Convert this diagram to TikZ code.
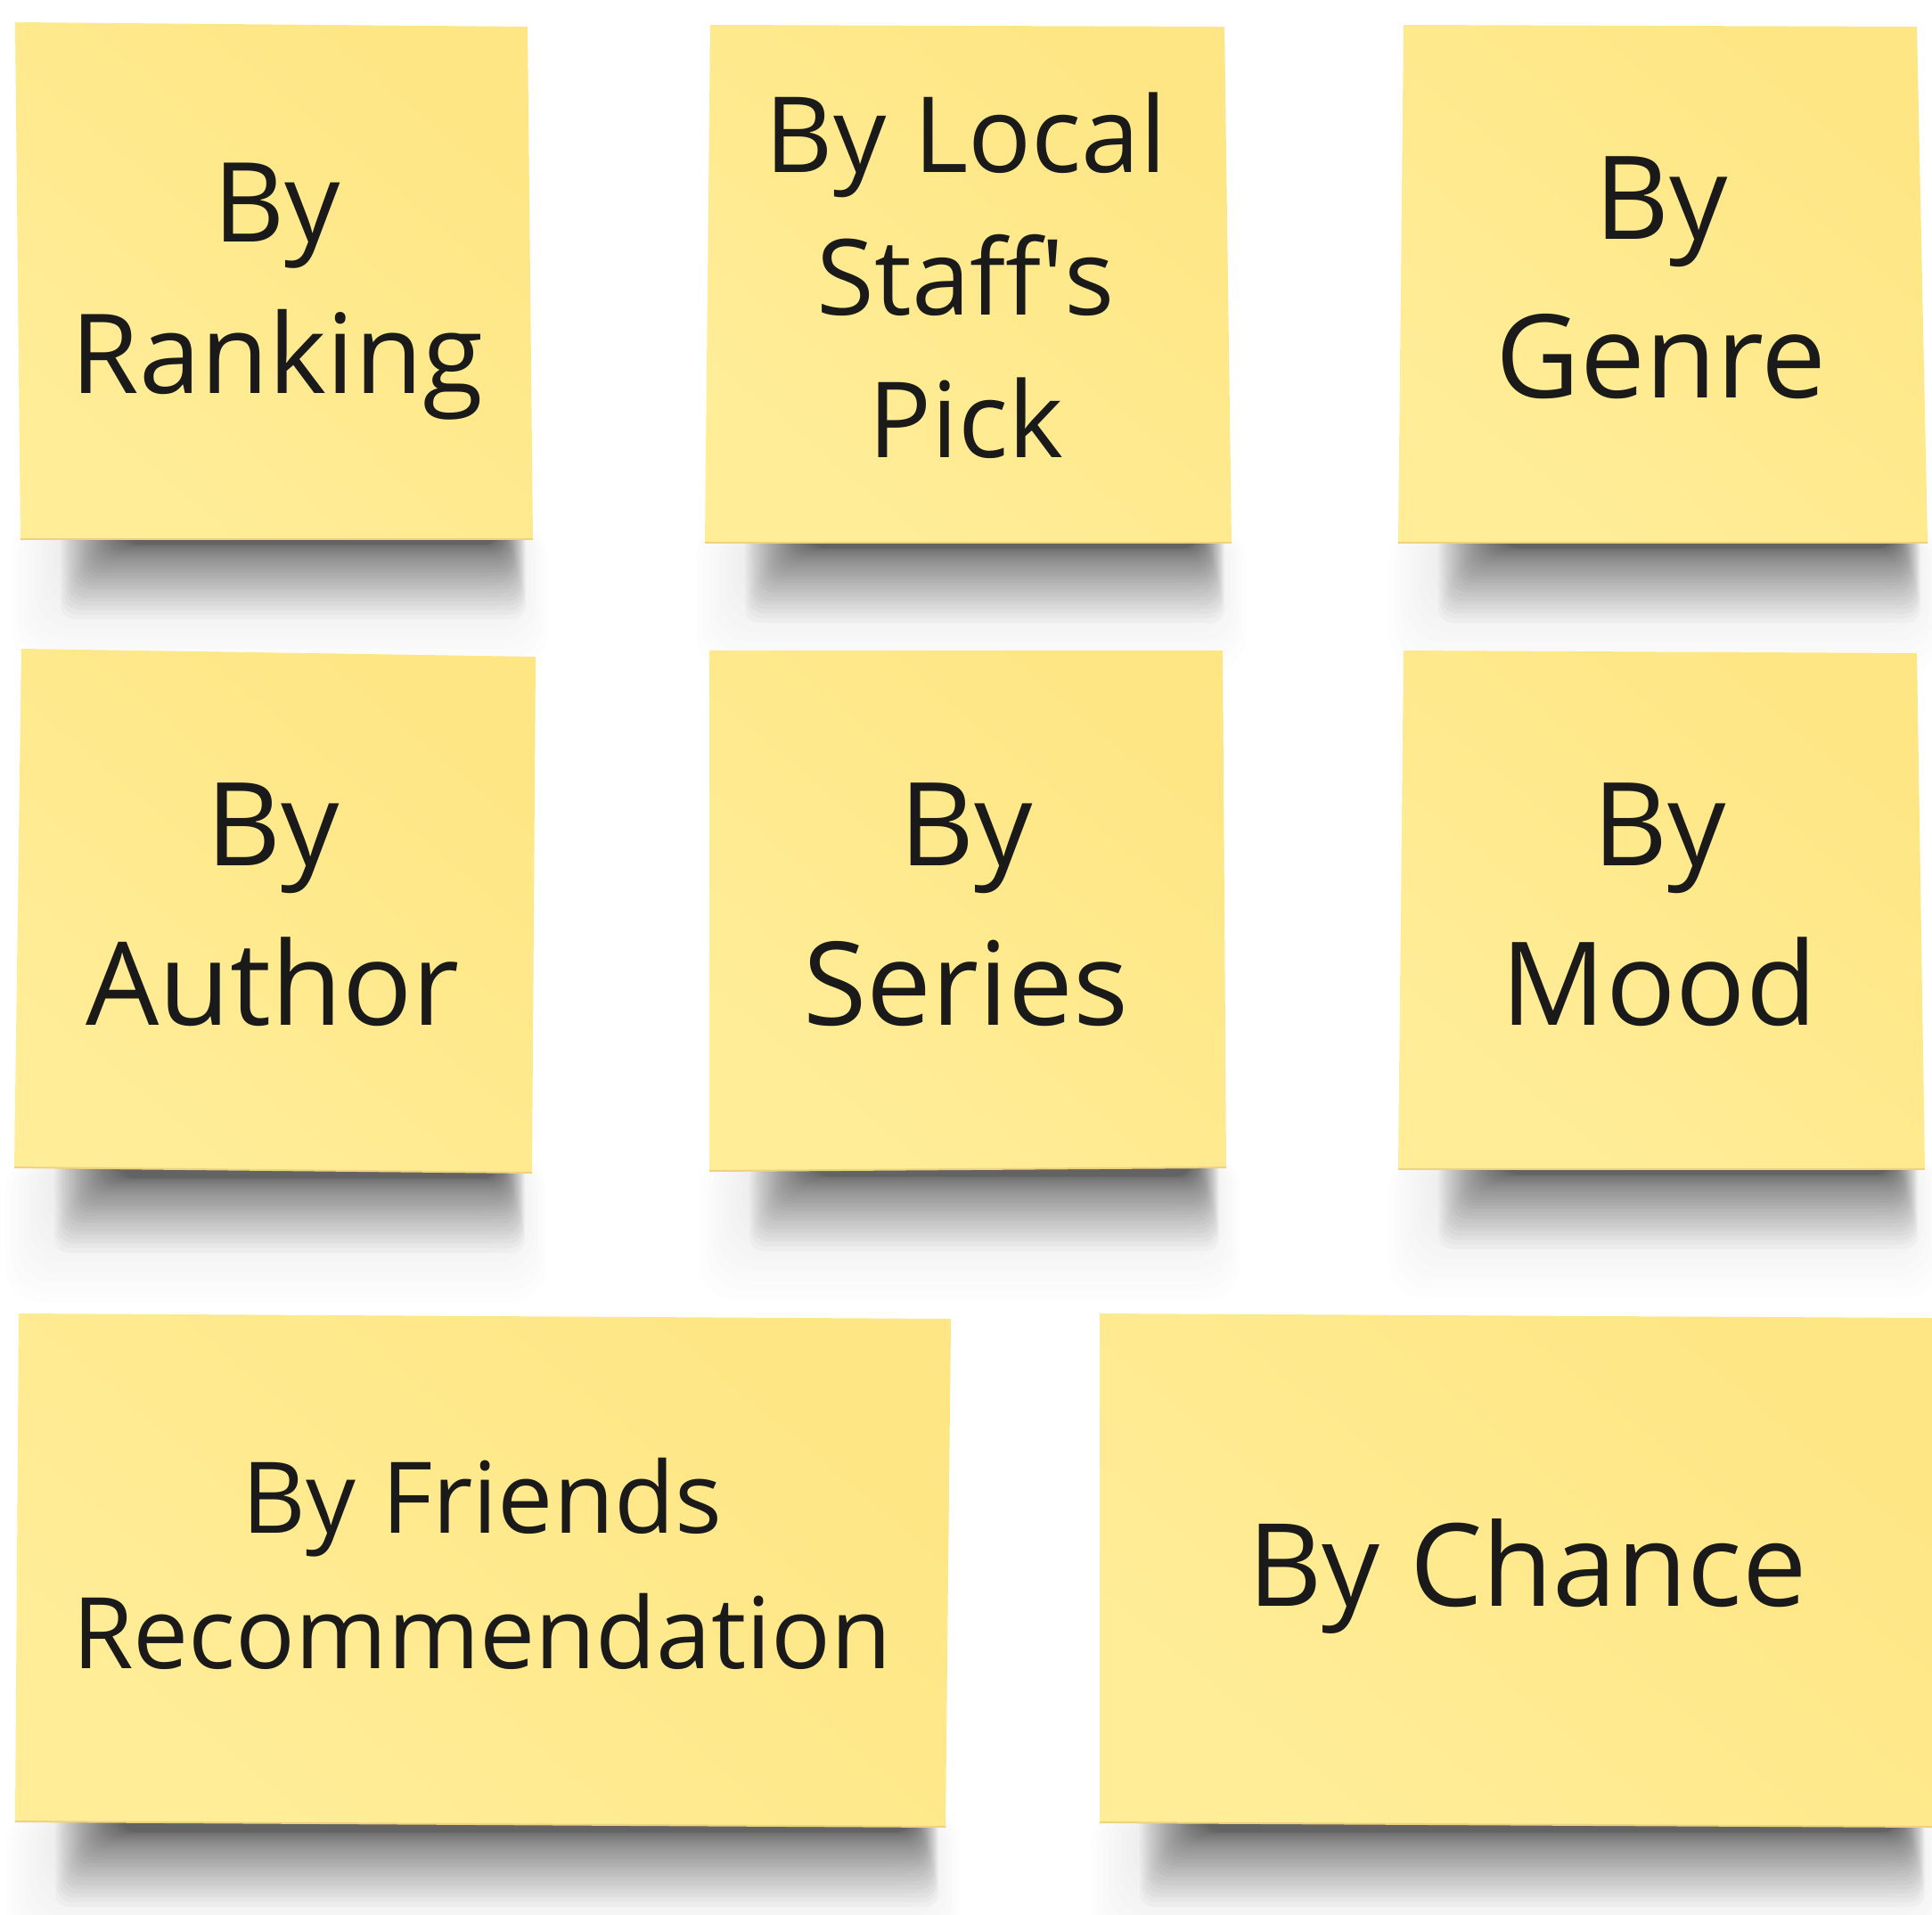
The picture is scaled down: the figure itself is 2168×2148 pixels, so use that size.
\documentclass[tikz,border=0pt]{standalone}
\usepackage{fontspec}
\setmainfont{Open Sans}
\definecolor{noteTop}{HTML}{FEE684}
\definecolor{noteBot}{HTML}{FFED98}
\definecolor{noteEdge}{HTML}{EFD37C}
\definecolor{ink}{HTML}{1A1A1A}
\newcommand{\tstrut}{\rule[-0.3em]{0pt}{1.3em}}
% shadow under a note: x-left, x-right, bottom y
\newcommand{\noteshadow}[3]{%
  \foreach \i [evaluate=\i as \t using \i/9] in {0,...,9}{%
    \fill[black,opacity=0.007,rounded corners=40] ({#1-10+60*\t},{#3-20}) rectangle ({#2+16-40*\t},{#3+145-100*\t});}%
  \foreach \i [evaluate=\i as \t using \i/31] in {0,...,31}{%
    \fill[black,opacity=0.024,rounded corners=16] ({#1+45+75*\t},{#3-30}) rectangle ({#2-8-32*\t},{#3+6+84*(1-\t)^2});}%
}
% sticky note polygon: TL, TR, BR, BL
\newcommand{\stickynote}[8]{%
  \shade[top color=noteTop, bottom color=noteBot, shading angle=-40] (#1,#2) -- (#3,#4) -- (#5,#6) -- (#7,#8) -- cycle;%
  \draw[noteEdge, line width=2] (#7,#8) -- (#5,#6);%
}
\begin{document}
\begin{tikzpicture}[x=1pt,y=-1pt,
  lbl/.style={align=center, inner sep=0pt, text=ink, anchor=center}]
\useasboundingbox (0,0) rectangle (2168,2148);
\fill[white] (0,0) rectangle (2168,2148);

% shadows
\noteshadow{23}{598}{605}
\noteshadow{791}{1382}{609}
\noteshadow{1569}{2163}{609}
\noteshadow{16}{597}{1316}
\noteshadow{796}{1376}{1314}
\noteshadow{1569}{2160}{1312}
\noteshadow{17}{1061}{2050}
\noteshadow{1234}{2168}{2050}

% notes
\stickynote{17}{25}{592}{30}{598}{605}{23}{605}
\stickynote{797}{28}{1374}{30}{1382}{609}{791}{609}
\stickynote{1575}{28}{2151}{30}{2163}{609}{1569}{609}
\stickynote{24}{728}{601}{737}{597}{1316}{16}{1310}
\stickynote{796}{730}{1372}{730}{1376}{1310}{796}{1314}
\stickynote{1575}{730}{2151}{733}{2160}{1312}{1569}{1312}
\stickynote{21}{1474}{1067}{1480}{1061}{2050}{17}{2044}
\stickynote{1234}{1474}{2168}{1479}{2168}{2050}{1234}{2045}

% texts
\node[lbl, font=\fontsize{124}{170}\selectfont] (ranking) at (311,312.6) {\tstrut By\\\tstrut Ranking};
\node[lbl, font=\fontsize{118}{160}\selectfont] (staff) at (1084,312) {\tstrut By Local\\\tstrut Staff\textquotesingle s\\\tstrut Pick};
\node[lbl, font=\fontsize{130}{178}\selectfont] (genre) at (1864,312) {\tstrut By\\\tstrut Genre};
\node[lbl, font=\fontsize{130}{179}\selectfont] (author) at (306,1015) {\tstrut By\\\tstrut Author};
\node[lbl, font=\fontsize{130}{179}\selectfont] (series) at (1084,1015) {\tstrut By\\\tstrut Series};
\node[lbl, font=\fontsize{130}{179}\selectfont] (mood) at (1862,1015) {\tstrut By\\\tstrut Mood};
\node[lbl, font=\fontsize{111}{152}\selectfont] (friends) at (541,1757.6) {\tstrut By Friends\\\tstrut Recommendation};
\node[lbl, font=\fontsize{129}{176}\selectfont] (chance) at (1714,1757) {\tstrut By Chance};
\end{tikzpicture}
\end{document}
